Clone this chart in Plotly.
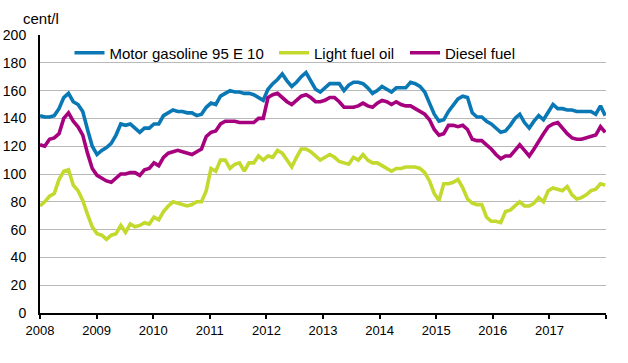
import plotly.graph_objects as go

years = ["2008", "2009", "2010", "2011", "2012", "2013", "2014", "2015", "2016", "2017"]

gasoline = [
    142, 141, 141, 142, 147, 155, 158, 152, 150, 145, 132, 120,
    114, 117, 119, 122, 128, 136, 135, 136, 133, 130, 133, 133,
    136, 136, 142, 144, 146, 145, 145, 144, 144, 142, 143, 148,
    151, 150, 156, 158, 160, 159, 159, 158, 158, 157, 155, 153,
    161, 165, 168, 172, 167, 163, 166, 170, 173, 167, 161, 159,
    162, 165, 165, 165, 160, 164, 166, 166, 165, 162, 158, 160,
    163, 161, 159, 162, 162, 162, 166, 165, 163, 159, 151, 143,
    138, 139, 145, 150, 154, 156, 155, 144, 141, 141, 138, 136,
    133, 130, 131, 135, 140, 143, 137, 133, 138, 142, 139, 144,
    150, 147, 147, 146, 146, 145, 145, 145, 145, 143, 149, 142,
]

light_fuel_oil = [
    77, 80, 84, 86, 96, 102, 103, 92, 88, 81, 71, 62,
    57, 56, 53, 56, 57, 63, 58, 64, 62, 63, 65, 64,
    69, 67, 73, 77, 80, 79, 78, 77, 78, 80, 80, 88,
    104, 102, 110, 110, 104, 107, 108, 102, 108, 108, 113, 110,
    113, 112, 117, 115, 110, 105, 112, 118, 118, 116, 113, 110,
    112, 114, 112, 109, 108, 107, 112, 110, 114, 110, 108, 108,
    106, 104, 102, 104, 104, 105, 105, 105, 104, 101, 95, 86,
    81, 93, 93, 94, 96, 90, 82, 79, 78, 78, 69, 66,
    66, 65, 73, 74, 77, 80, 77, 77, 79, 83, 80, 88,
    90, 89, 88, 91, 85, 82, 83, 85, 88, 89, 93, 92,
]

diesel = [
    121, 120, 125, 126, 129, 140, 144, 138, 134, 128, 115, 104,
    99, 97, 95, 94, 97, 100, 100, 101, 101, 99, 103, 104,
    108, 106, 112, 115, 116, 117, 116, 115, 114, 116, 118, 127,
    130, 131, 136, 138, 138, 138, 137, 137, 137, 137, 140, 140,
    155, 157, 158, 155, 152, 150, 153, 156, 157, 155, 152, 152,
    153, 155, 155, 152, 148, 148, 148, 149, 151, 149, 148, 151,
    153, 152, 150, 152, 150, 149, 149, 147, 145, 143, 139, 132,
    128, 129, 135, 135, 134, 135, 132, 125, 124, 124, 121, 118,
    114, 111, 113, 113, 117, 121, 117, 113, 118, 124, 129, 134,
    136, 137, 133, 129, 126, 125, 125, 126, 127, 128, 134, 130,
]

series = [
    ("Motor gasoline 95 E 10", gasoline, "#0a78b4", "legend"),
    ("Light fuel oil", light_fuel_oil, "#c3d92d", "legend2"),
    ("Diesel fuel", diesel, "#a6007f", "legend3"),
]

x_idx = list(range(len(gasoline)))
x_end = 119.16
year_step = x_end / 10

fig = go.Figure()
for name, vals, color, leg in series:
    fig.add_trace(go.Scatter(
        x=x_idx, y=vals, mode="lines", name=name, legend=leg,
        line=dict(color=color, width=3.6),
    ))

def legend_at(px):
    return dict(
        orientation="h", x=(px - 40) / 566, xanchor="left", y=0.935, yanchor="middle",
        bgcolor="rgba(0,0,0,0)", font=dict(size=15), itemwidth=30,
        itemclick=False, itemdoubleclick=False,
    )

fig.update_layout(
    width=628, height=363,
    margin=dict(l=40, r=22, t=35, b=50, autoexpand=False),
    paper_bgcolor="white", plot_bgcolor="white",
    font=dict(family="Liberation Sans, Arial, sans-serif", color="#000000", size=13),
    showlegend=True,
    legend=legend_at(69.5),
    legend2=legend_at(274),
    legend3=legend_at(405),
    xaxis=dict(
        range=[0, x_end], tickmode="array",
        tickvals=[k * year_step for k in range(11)],
        ticktext=years + [""],
        showgrid=False, zeroline=False, automargin=False,
        showline=True, linecolor="#000000", linewidth=2,
        ticks="outside", ticklen=4, tickcolor="#000000", tickwidth=1.5,
        tickfont=dict(size=13),
    ),
    yaxis=dict(
        range=[0, 200], tickmode="array", tickvals=list(range(0, 201, 20)),
        showgrid=True, gridcolor="#b9b9b9", gridwidth=1, automargin=False,
        zeroline=False, showline=True, linecolor="#000000", linewidth=2,
        ticks="", ticklabelstandoff=9, tickfont=dict(size=14),
    ),
    shapes=[dict(
        type="rect", xref="paper", yref="paper", layer="between",
        x0=18 / 566, x1=491 / 566, y0=(313.3 - 73) / 278.6, y1=1.01,
        fillcolor="white", line=dict(width=0),
    )],
    annotations=[dict(
        text="cent/l", xref="paper", yref="paper",
        x=-19 / 566, y=(313.3 - 18) / 278.6, xanchor="left", yanchor="middle",
        showarrow=False, font=dict(size=15),
    )],
)

fig.write_html(
    "out.html",
    include_plotlyjs=True,
    config={"displayModeBar": False},
    post_script="document.body.style.margin='0';document.body.style.padding='0';",
)
